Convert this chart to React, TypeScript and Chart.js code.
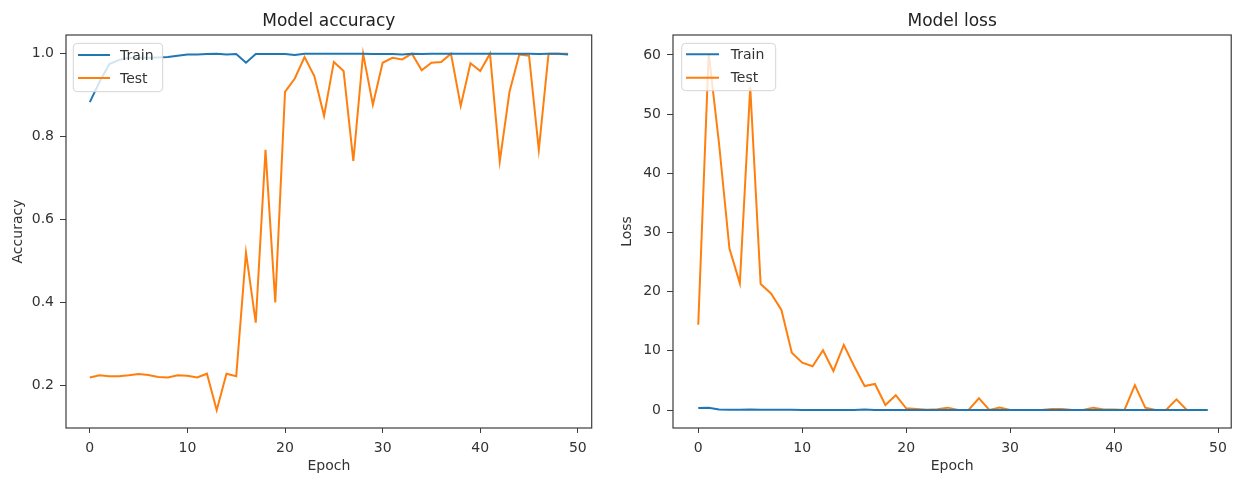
import React, { useEffect, useRef } from "react";
import { Chart, registerables } from "chart.js";

Chart.register(...registerables);

// ---------- DATA ----------
const epochs = [
  0, 1, 2, 3, 4, 5, 6, 7, 8, 9, 10, 11, 12, 13, 14, 15, 16, 17, 18, 19, 20, 21, 22, 23, 24,
  25, 26, 27, 28, 29, 30, 31, 32, 33, 34, 35, 36, 37, 38, 39, 40, 41, 42, 43, 44, 45, 46, 47, 48, 49,
];

const trainAccuracy = [
  0.883, 0.932, 0.975, 0.985, 0.99, 0.99, 0.99, 0.991, 0.992, 0.995,
  0.998, 0.998, 0.999, 1.0, 0.998, 0.999, 0.978, 0.999, 0.999, 0.999,
  0.999, 0.997, 1.0, 1.0, 1.0, 1.0, 1.0, 1.0, 1.0, 0.999,
  0.999, 0.999, 0.998, 1.0, 0.999, 1.0, 1.0, 1.0, 1.0, 1.0,
  1.0, 1.0, 1.0, 1.0, 1.0, 1.0, 0.999, 1.0, 1.0, 0.998,
];

const testAccuracy = [
  0.219, 0.224, 0.222, 0.222, 0.224, 0.227, 0.225, 0.22, 0.219, 0.224,
  0.223, 0.219, 0.228, 0.14, 0.228, 0.222, 0.52, 0.351, 0.768, 0.4,
  0.908, 0.94, 0.992, 0.946, 0.85, 0.98, 0.958, 0.741, 1.0, 0.877,
  0.978, 0.99, 0.986, 1.0, 0.96, 0.978, 0.98, 1.0, 0.874, 0.977,
  0.958, 1.0, 0.74, 0.908, 0.998, 0.995, 0.768, 1.0, 1.0, 1.0,
];

const trainLoss = [
  0.35, 0.4, 0.1, 0.05, 0.05, 0.08, 0.04, 0.03, 0.03, 0.03,
  0.02, 0.02, 0.02, 0.02, 0.02, 0.02, 0.1, 0.02, 0.02, 0.02,
  0.02, 0.02, 0.02, 0.02, 0.02, 0.02, 0.02, 0.02, 0.02, 0.02,
  0.02, 0.02, 0.02, 0.02, 0.02, 0.02, 0.02, 0.02, 0.02, 0.02,
  0.02, 0.02, 0.02, 0.02, 0.02, 0.02, 0.02, 0.02, 0.02, 0.02,
];

const testLoss = [
  14.4, 60.3, 45.0, 27.3, 21.4, 54.6, 21.3, 19.7, 16.9, 9.7,
  8.0, 7.4, 10.1, 6.6, 11.0, 7.4, 4.05, 4.4, 0.84, 2.5,
  0.28, 0.17, 0.05, 0.15, 0.4, 0.02, 0.02, 1.97, 0.02, 0.4,
  0.02, 0.02, 0.02, 0.02, 0.17, 0.17, 0.02, 0.02, 0.4, 0.1,
  0.1, 0.02, 4.2, 0.4, 0.02, 0.02, 1.8, 0.02, 0.02, 0.02,
];

const xTicks = [0, 10, 20, 30, 40, 50];
const accuracyTicks = [0.2, 0.4, 0.6, 0.8, 1.0];
const lossTicks = [0, 10, 20, 30, 40, 50, 60];
const seriesLabels = ["Train", "Test"];
const seriesColors = ["#1f77b4", "#ff7f0e"];

// ---------- STYLE ----------
const FONT = "'DejaVu Sans', sans-serif";
const TEXT = "#333333";

type LegendGeom = {
  boxX: number; boxY: number; boxW: number; boxH: number;
  lineX0: number; lineX1: number; rowY: number[]; textX: number;
};

function framePlugin(geom: LegendGeom) {
  return {
    id: "frameAndLegend",
    afterDatasetsDraw(chart: any) {
      const { ctx, chartArea } = chart;
      const { left, top, right, bottom } = chartArea;
      ctx.save();
      ctx.strokeStyle = "#3c3c3c";
      ctx.lineWidth = 1.2;
      ctx.strokeRect(left, top, right - left, bottom - top);

      // legend (matplotlib-like, upper left)
      const bx = left + geom.boxX;
      const by = top + geom.boxY;
      ctx.beginPath();
      if ((ctx as any).roundRect) {
        (ctx as any).roundRect(bx, by, geom.boxW, geom.boxH, 4);
      } else {
        ctx.rect(bx, by, geom.boxW, geom.boxH);
      }
      ctx.fillStyle = "rgba(255,255,255,0.8)";
      ctx.fill();
      ctx.strokeStyle = "#d4d4d4";
      ctx.lineWidth = 1;
      ctx.stroke();

      ctx.font = `14px ${FONT}`;
      ctx.textBaseline = "middle";
      ctx.textAlign = "left";
      seriesLabels.forEach((lab, i) => {
        const y = top + geom.rowY[i];
        ctx.beginPath();
        ctx.strokeStyle = seriesColors[i];
        ctx.lineWidth = 2;
        ctx.moveTo(left + geom.lineX0, y);
        ctx.lineTo(left + geom.lineX1, y);
        ctx.stroke();
        ctx.fillStyle = TEXT;
        ctx.fillText(lab, left + geom.textX, y + 1);
      });
      ctx.restore();
    },
  };
}

type ChartSpec = {
  title: string;
  yTitle: string;
  train: number[];
  test: number[];
  yMin: number;
  yMax: number;
  yTicks: number[];
  yFmt: (v: number) => string;
  xMin: number;
  xMax: number;
  yAxisWidth: number;
  padRight: number;
  yTitlePad: number;
  legend: LegendGeom;
};

function buildConfig(s: ChartSpec): any {
  const mk = (arr: number[]) => epochs.map((e, i) => ({ x: e, y: arr[i] }));
  return {
    type: "line",
    data: {
      datasets: [
        {
          label: seriesLabels[0],
          data: mk(s.train),
          borderColor: seriesColors[0],
          backgroundColor: seriesColors[0],
          borderWidth: 2,
          pointRadius: 0,
          tension: 0,
          fill: false,
        },
        {
          label: seriesLabels[1],
          data: mk(s.test),
          borderColor: seriesColors[1],
          backgroundColor: seriesColors[1],
          borderWidth: 2,
          pointRadius: 0,
          tension: 0,
          fill: false,
        },
      ],
    },
    options: {
      animation: false,
      responsive: false,
      maintainAspectRatio: false,
      devicePixelRatio: 1,
      layout: { padding: { left: 0, right: s.padRight, top: 0, bottom: 0 } },
      plugins: {
        legend: { display: false },
        tooltip: { enabled: false },
        title: {
          display: true,
          text: s.title,
          fullSize: false,
          color: "#222222",
          font: { family: FONT, size: 17, weight: "normal", lineHeight: 1.2 },
          padding: { top: 11.6, bottom: 3.0 },
        },
      },
      scales: {
        x: {
          type: "linear",
          position: "bottom",
          min: s.xMin,
          max: s.xMax,
          afterBuildTicks: (scale: any) => {
            scale.ticks = xTicks.map((v) => ({ value: v }));
          },
          afterFit: (scale: any) => {
            scale.height = 49;
          },
          grid: {
            display: true,
            drawOnChartArea: false,
            drawTicks: true,
            tickLength: 5,
            tickColor: "#3c3c3c",
            tickWidth: 1,
          },
          border: { display: false },
          ticks: {
            color: TEXT,
            font: { family: FONT, size: 14 },
            padding: 7,
            maxRotation: 0,
            autoSkip: false,
            callback: (v: any) => String(v),
          },
          title: {
            display: true,
            text: "Epoch",
            color: TEXT,
            font: { family: FONT, size: 14, lineHeight: 1.2 },
            padding: { top: 0, bottom: 2 },
          },
        },
        y: {
          type: "linear",
          position: "left",
          min: s.yMin,
          max: s.yMax,
          afterBuildTicks: (scale: any) => {
            scale.ticks = s.yTicks.map((v) => ({ value: v }));
          },
          afterFit: (scale: any) => {
            scale.width = s.yAxisWidth;
          },
          grid: {
            display: true,
            drawOnChartArea: false,
            drawTicks: true,
            tickLength: 6,
            tickColor: "#3c3c3c",
            tickWidth: 1,
          },
          border: { display: false },
          ticks: {
            color: TEXT,
            font: { family: FONT, size: 14 },
            padding: 6,
            autoSkip: false,
            callback: (v: any) => s.yFmt(Number(v)),
          },
          title: {
            display: true,
            text: s.yTitle,
            color: TEXT,
            font: { family: FONT, size: 14, lineHeight: 1.2 },
            padding: { top: s.yTitlePad, bottom: 0 },
          },
        },
      },
    },
    plugins: [framePlugin(s.legend)],
  };
}

const accuracySpec: ChartSpec = {
  title: "Model accuracy",
  yTitle: "Accuracy",
  train: trainAccuracy,
  test: testAccuracy,
  yMin: 0.097,
  yMax: 1.045,
  yTicks: accuracyTicks,
  yFmt: (v) => v.toFixed(1),
  xMin: -2.44,
  xMax: 51.42,
  yAxisWidth: 66,
  padRight: 610 - 591.7,
  yTitlePad: 9.6,
  legend: {
    boxX: 7.3, boxY: 8.3, boxW: 89.4, boxH: 48.4,
    lineX0: 12, lineX1: 44, rowY: [20, 43], textX: 54,
  },
};

const lossSpec: ChartSpec = {
  title: "Model loss",
  yTitle: "Loss",
  train: trainLoss,
  test: testLoss,
  yMin: -3.04,
  yMax: 63.38,
  yTicks: lossTicks,
  yFmt: (v) => String(Math.round(v)),
  xMin: -2.43,
  xMax: 51.27,
  yAxisWidth: 63,
  padRight: 624 - 622.3,
  yTitlePad: 8.6,
  legend: {
    boxX: 8.7, boxY: 8.3, boxW: 94, boxH: 47.4,
    lineX0: 13, lineX1: 46, rowY: [19.3, 42.7], textX: 57.7,
  },
};

function ChartCanvas({ spec, width, height, left }: { spec: ChartSpec; width: number; height: number; left: number }) {
  const ref = useRef<HTMLCanvasElement | null>(null);
  useEffect(() => {
    if (!ref.current) return;
    const chart = new Chart(ref.current, buildConfig(spec));
    return () => chart.destroy();
  }, [spec]);
  return (
    <canvas
      ref={ref}
      width={width}
      height={height}
      style={{ position: "absolute", left, top: 0, width, height, display: "block" }}
    />
  );
}

export default function App() {
  return (
    <div
      style={{
        position: "absolute",
        left: 0,
        top: 0,
        width: 1234,
        height: 477,
        background: "#ffffff",
        overflow: "hidden",
      }}
    >
      <ChartCanvas spec={accuracySpec} width={610} height={477} left={0} />
      <ChartCanvas spec={lossSpec} width={624} height={477} left={610} />
    </div>
  );
}
